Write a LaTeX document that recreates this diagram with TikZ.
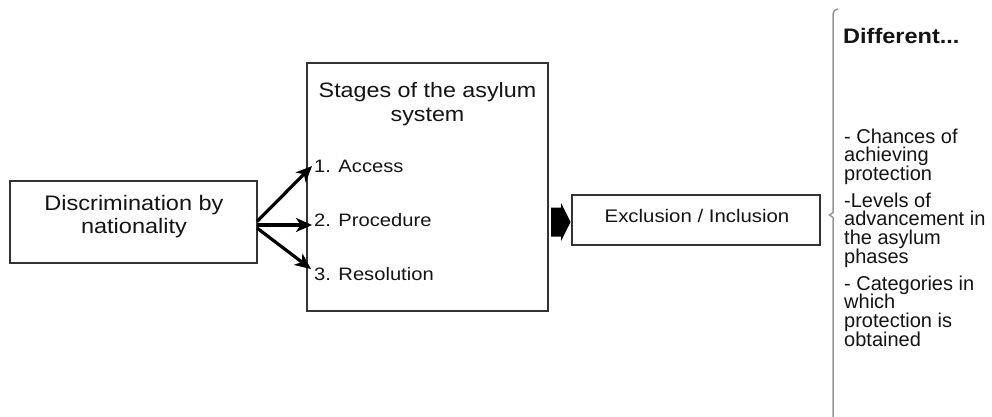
\documentclass[tikz,border=0pt]{standalone}
\usepackage{fontspec}
\setmainfont{Liberation Sans}[FakeStretch=1.12]
\newfontfamily\plainsans{Liberation Sans}
\usetikzlibrary{arrows.meta}
\newcommand\leftlines[1]{\vtop{\halign{##\hfil\cr#1\crcr}}}
\newcommand\midlines[1]{\vtop{\halign{\hfil##\hfil\cr#1\crcr}}}
\tikzset{
  box/.style={draw=black!80, line width=1.3pt, fill=white, inner sep=0pt},
  txt/.style={inner sep=0pt, text=black!92},
  sidetxt/.style={txt, anchor=base west, font=\plainsans\fontsize{20}{18.7}\selectfont},
  fanarrow/.style={line width=3.2pt, -{Stealth[length=16pt,width=14pt,inset=4.5pt]}},
}
\begin{document}
\begin{tikzpicture}[x=1pt,y=-1pt]
\useasboundingbox[fill=white] (0,0) rectangle (992,416);

% boxes
\node[box, minimum width=247pt, minimum height=82pt] (disc) at (133.5,222) {};
\node[box, minimum width=241pt, minimum height=248pt] (stages) at (427.5,187) {};
\node[box, minimum width=248pt, minimum height=50pt] (excl) at (696,220) {};

% box texts
\node[txt, anchor=base, font=\fontsize{21}{23}\selectfont] (disctext) at (134,210)
  {\midlines{Discrimination by\cr nationality}};
\node[txt, anchor=base, font=\fontsize{20.8}{24}\selectfont] (stagestitle) at (427.5,97)
  {\midlines{Stages of the asylum\cr system}};
\node[txt, anchor=base west, font=\fontsize{18}{20}\selectfont] (acc) at (314,172.5) {1. Access};
\node[txt, anchor=base west, font=\fontsize{18}{20}\selectfont] (proc) at (314,226.5) {2. Procedure};
\node[txt, anchor=base west, font=\fontsize{18}{20}\selectfont] (res) at (314,280) {3. Resolution};
\node[txt, anchor=base, font=\fontsize{18.2}{20}\selectfont] (excltext) at (697,222) {Exclusion / Inclusion};

% fan arrows
\coordinate (s1) at (257,221.5);
\coordinate (s2) at (257,225);
\coordinate (s3) at (257,228);
\coordinate (t1) at (312,166);
\coordinate (t2) at (312,225);
\coordinate (t3) at (311,269);
\draw[fanarrow] (s1) -- (t1);
\draw[fanarrow] (s2) -- (t2);
\draw[fanarrow] (s3) -- (t3);

% block arrow between stages and exclusion
\fill[black] (551,207.5) -- (561,207.5) -- (561,203) -- (570.5,222) -- (561,241)
  -- (561,236.5) -- (551,236.5) -- cycle;

% bracket
\draw[draw=black!40, line width=1.5pt] (838,9) to[out=180,in=90] (833,14) -- (833,212.5)
  -- (829.5,215) -- (833,217.5) -- (833,430);

% right text
\node[txt, anchor=base west, font=\bfseries\fontsize{21}{23}\selectfont] (diff) at (843,43) {Different...};
\node[sidetxt] (p1) at (844,143)
  {\leftlines{- Chances of\cr achieving\cr protection}};
\node[sidetxt] (p2) at (844,207)
  {\leftlines{-Levels of\cr advancement in\cr the asylum\cr phases}};
\node[sidetxt] (p3) at (844,290)
  {\leftlines{- Categories in\cr which\cr protection is\cr obtained}};
\end{tikzpicture}
\end{document}
